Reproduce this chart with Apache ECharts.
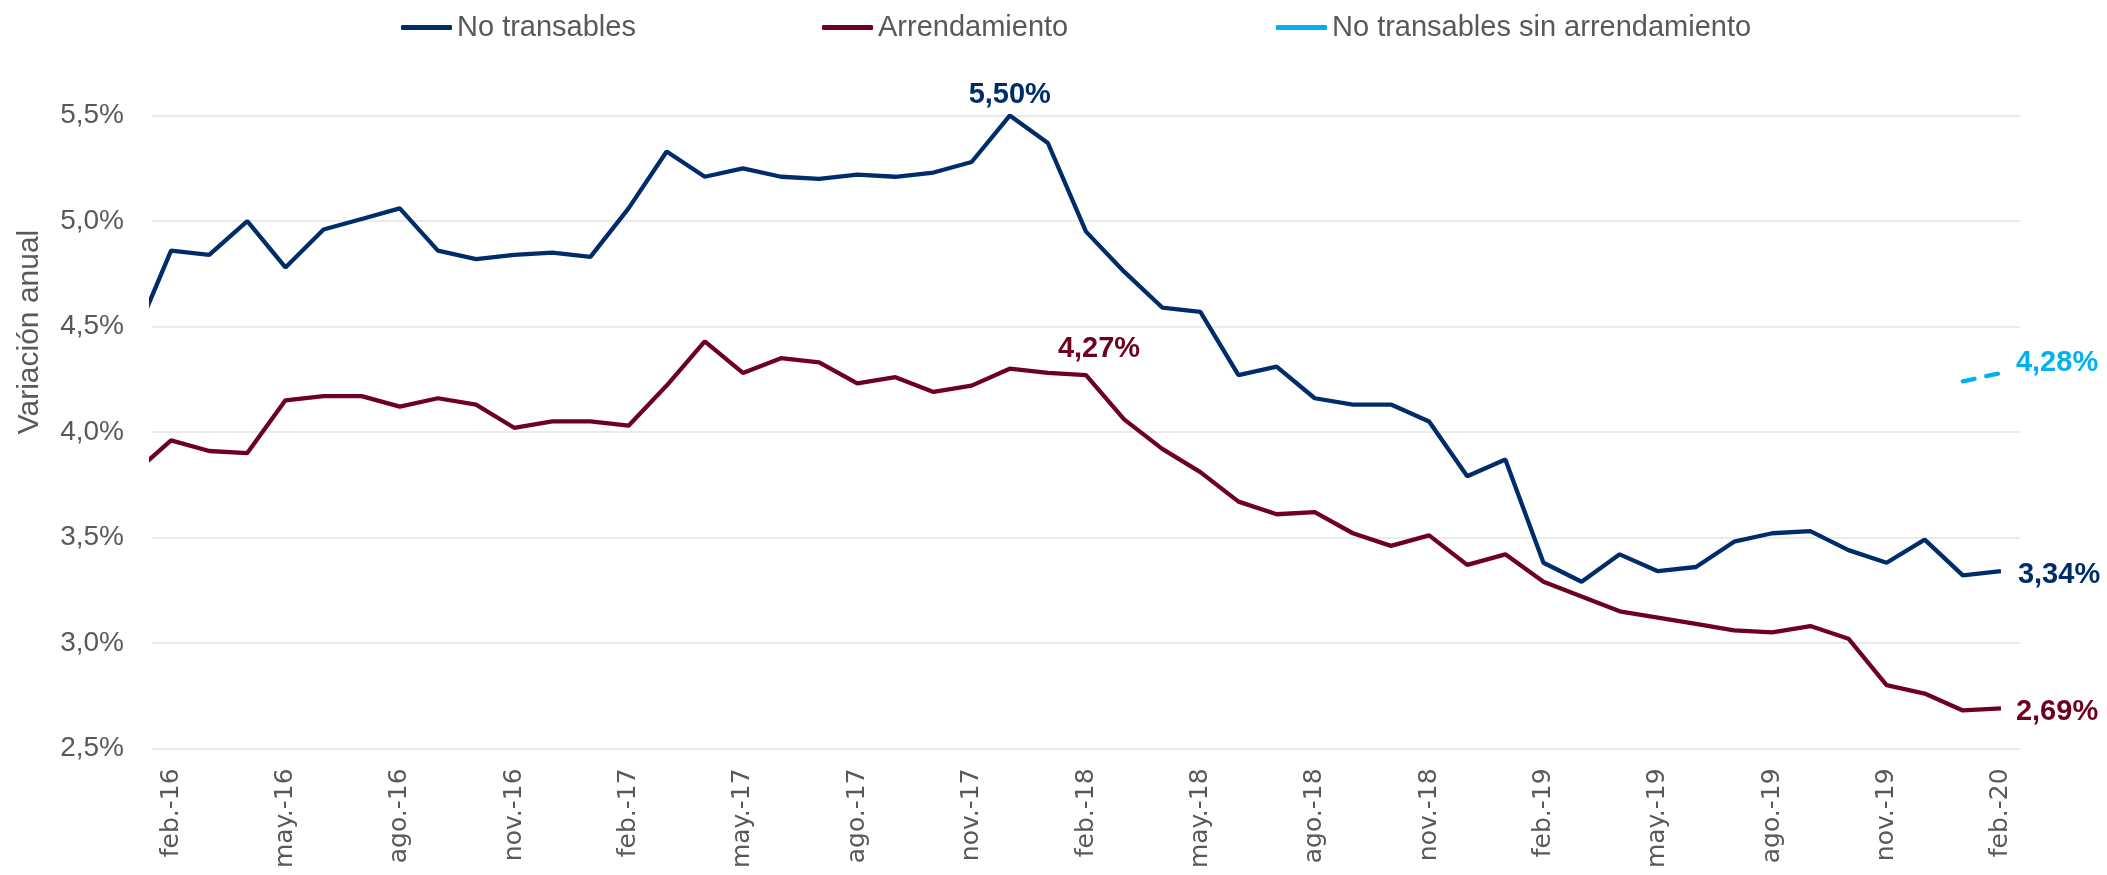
<!DOCTYPE html>
<html>
<head>
<meta charset="utf-8">
<script src="https://cdn.jsdelivr.net/npm/echarts@6/dist/echarts.min.js"></script>
<style>
  html, body { margin: 0; padding: 0; background: #fff; }
  #chart { width: 2107px; height: 875px; }
</style>
</head>
<body>
<div id="chart"></div>
<script>
// meses (ene.-16 ... feb.-20)
const meses = [
  'ene.-16','feb.-16','mar.-16','abr.-16','may.-16','jun.-16','jul.-16','ago.-16','sep.-16','oct.-16','nov.-16','dic.-16',
  'ene.-17','feb.-17','mar.-17','abr.-17','may.-17','jun.-17','jul.-17','ago.-17','sep.-17','oct.-17','nov.-17','dic.-17',
  'ene.-18','feb.-18','mar.-18','abr.-18','may.-18','jun.-18','jul.-18','ago.-18','sep.-18','oct.-18','nov.-18','dic.-18',
  'ene.-19','feb.-19','mar.-19','abr.-19','may.-19','jun.-19','jul.-19','ago.-19','sep.-19','oct.-19','nov.-19','dic.-19',
  'ene.-20','feb.-20'
]
// meses con etiqueta en el eje
const mesesEje = ['feb.-16','may.-16','ago.-16','nov.-16','feb.-17','may.-17','ago.-17','nov.-17',
  'feb.-18','may.-18','ago.-18','nov.-18','feb.-19','may.-19','ago.-19','nov.-19','feb.-20']

const noTransables = [
  4.43, 4.86, 4.84, 5.00, 4.78, 4.96, 5.01, 5.06, 4.86, 4.82, 4.84, 4.85,
  4.83, 5.06, 5.33, 5.21, 5.25, 5.21, 5.20, 5.22, 5.21, 5.23, 5.28, 5.50,
  5.37, 4.95, 4.76, 4.59, 4.57, 4.27, 4.31, 4.16, 4.13, 4.13, 4.05, 3.79,
  3.87, 3.38, 3.29, 3.42, 3.34, 3.36, 3.48, 3.52, 3.53, 3.44, 3.38, 3.49,
  3.32, 3.34
]
const arrendamiento = [
  3.80, 3.96, 3.91, 3.90, 4.15, 4.17, 4.17, 4.12, 4.16, 4.13, 4.02, 4.05,
  4.05, 4.03, 4.22, 4.43, 4.28, 4.35, 4.33, 4.23, 4.26, 4.19, 4.22, 4.30,
  4.28, 4.27, 4.06, 3.92, 3.81, 3.67, 3.61, 3.62, 3.52, 3.46, 3.51, 3.37,
  3.42, 3.29, 3.22, 3.15, 3.12, 3.09, 3.06, 3.05, 3.08, 3.02, 2.80, 2.76,
  2.68, 2.69
]
const sinArrMeses = ['ene.-20', 'feb.-20']
const sinArrendamiento = [4.24, 4.28]

const AZUL = '#002D6A'
const VINO = '#6E0020'
const CELESTE = '#00B0F0'
const GRIS = '#595959'
const FUENTE = "'Liberation Sans', Arial, sans-serif"

const pct2 = v => v.toFixed(2).replace('.', ',') + '%'

// etiquetas puntuales (pico de cada serie)
const etiquetas = {
  'No transables': { 'dic.-17': { position: 'top', distance: 6 } },
  'Arrendamiento': { 'feb.-18': { position: 'top', distance: 12, offset: [13, 0] } }
}

function puntos(nombre, valores, cats, color) {
  return valores.map((v, i) => {
    const idx = meses.indexOf(cats[i])
    const lab = (etiquetas[nombre] || {})[cats[i]]
    if (!lab) return [idx, v]
    return {
      value: [idx, v],
      label: Object.assign({
        show: true, color: color, fontWeight: 'bold', fontSize: 29, fontFamily: FUENTE,
        formatter: p => pct2(p.value[1])
      }, lab)
    }
  })
}

const chart = echarts.init(document.getElementById('chart'))

const leyenda = (nombre, left) => ({
  data: [nombre],
  left: left,
  top: 8,
  icon: 'roundRect',
  itemWidth: 51,
  itemHeight: 5,
  itemGap: 0,
  textStyle: { color: GRIS, fontSize: 29, fontFamily: FUENTE }
})

const serieBase = {
  type: 'line',
  symbol: 'circle',
  symbolSize: 0,
  showSymbol: true,
  showAllSymbol: true,
  clip: true
}

const option = {
  animation: false,
  legend: [
    leyenda('No transables', 396),
    leyenda('Arrendamiento', 817),
    leyenda('No transables sin arrendamiento', 1271)
  ],
  grid: { left: 152, right: 87, top: 115.6, bottom: 126.6 },
  xAxis: {
    type: 'value',
    min: 0.5,
    max: meses.length - 0.5,
    axisLine: { show: false },
    axisTick: { show: false },
    splitLine: { show: false },
    axisLabel: {
      customValues: mesesEje.map(m => meses.indexOf(m)),
      formatter: v => meses[Math.round(v)],
      rotate: 90,
      margin: 20,
      color: GRIS,
      fontSize: 25,
      fontFamily: "'DejaVu Sans', sans-serif"
    }
  },
  yAxis: {
    type: 'value',
    min: 2.5,
    max: 5.5,
    interval: 0.5,
    axisLine: { show: false },
    axisTick: { show: false },
    splitLine: { lineStyle: { color: '#E3E3E3', width: 1.5 } },
    axisLabel: {
      margin: 28,
      color: GRIS,
      fontSize: 28,
      fontFamily: FUENTE,
      formatter: v => v.toFixed(1).replace('.', ',') + '%'
    }
  },
  graphic: [{
    type: 'text',
    x: 30,
    y: 332,
    rotation: Math.PI / 2,
    style: {
      text: 'Variación anual',
      fill: GRIS,
      fontSize: 30,
      fontFamily: FUENTE,
      align: 'center',
      verticalAlign: 'middle'
    }
  }],
  series: [
    Object.assign({}, serieBase, {
      name: 'No transables',
      color: AZUL,
      lineStyle: { width: 4.3, color: AZUL },
      data: puntos('No transables', noTransables, meses, AZUL),
      endLabel: {
        show: true, distance: 17, offset: [0, 4], color: AZUL, fontWeight: 'bold', fontSize: 29, fontFamily: FUENTE,
        formatter: p => pct2(p.value[1])
      }
    }),
    Object.assign({}, serieBase, {
      name: 'Arrendamiento',
      color: VINO,
      lineStyle: { width: 4.3, color: VINO },
      data: puntos('Arrendamiento', arrendamiento, meses, VINO),
      endLabel: {
        show: true, distance: 15, offset: [0, 4], color: VINO, fontWeight: 'bold', fontSize: 29, fontFamily: FUENTE,
        formatter: p => pct2(p.value[1])
      }
    }),
    Object.assign({}, serieBase, {
      name: 'No transables sin arrendamiento',
      color: CELESTE,
      lineStyle: { width: 4.3, color: CELESTE, type: [12, 12], cap: 'round' },
      data: puntos('No transables sin arrendamiento', sinArrendamiento, sinArrMeses, CELESTE),
      endLabel: {
        show: true, distance: 15, offset: [0, -10], color: CELESTE, fontWeight: 'bold', fontSize: 29, fontFamily: FUENTE,
        formatter: p => pct2(p.value[1])
      }
    })
  ]
}

chart.setOption(option)
</script>
</body>
</html>
